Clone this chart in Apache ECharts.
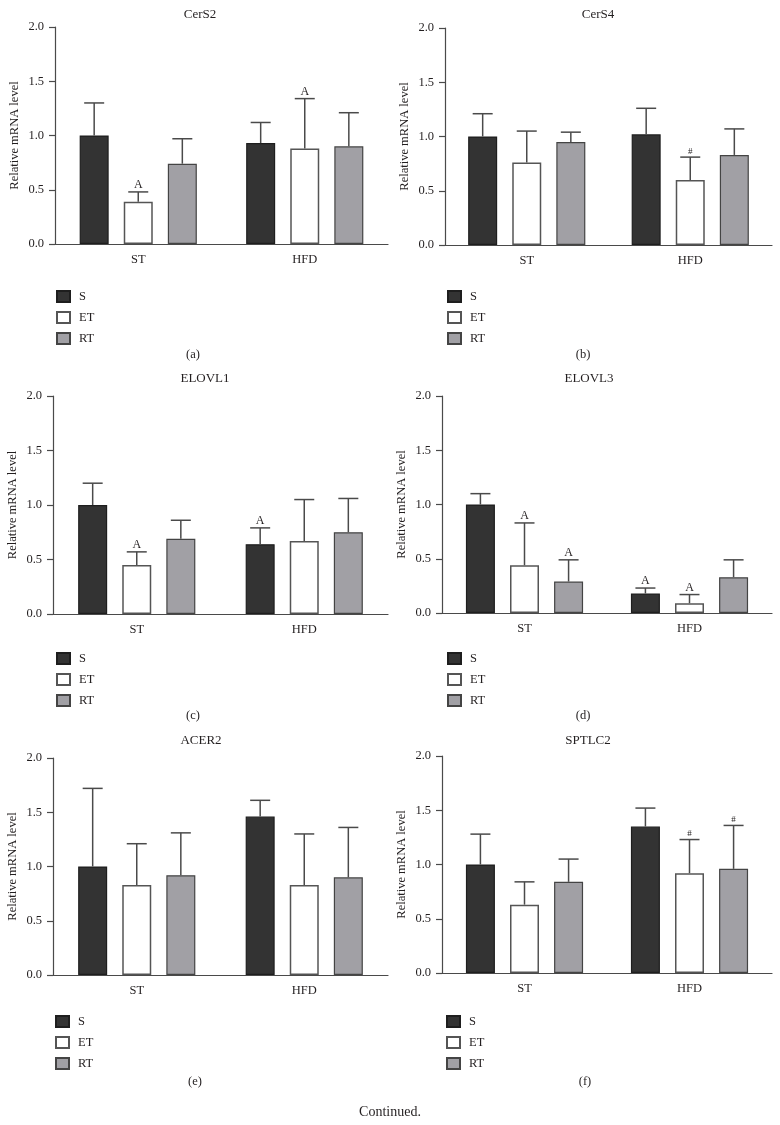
<!DOCTYPE html>
<html>
<head>
<meta charset="utf-8">
<script src="https://cdn.jsdelivr.net/npm/echarts@6/dist/echarts.min.js"></script>
<style>
html,body{margin:0;padding:0;background:#fff;}
#chart{width:780px;height:1125px;}
</style>
</head>
<body>
<div id="chart"></div>
<script>
// ---------- DATA ----------
const categories = ['ST', 'HFD'];
const groups = ['S', 'ET', 'RT'];
const yTicks = [0.0, 0.5, 1.0, 1.5, 2.0];
const panelTitles = ['CerS2', 'CerS4', 'ELOVL1', 'ELOVL3', 'ACER2', 'SPTLC2'];
const panelLetters = ['(a)', '(b)', '(c)', '(d)', '(e)', '(f)'];
const yAxisName = 'Relative mRNA level';
const footnote = 'Continued.';

// means: rows = S, ET, RT ; columns = ST, HFD
const cers2_mean   = [[1.00, 0.93], [0.39, 0.88], [0.74, 0.90]];
const cers2_sd     = [[0.30, 0.19], [0.09, 0.46], [0.23, 0.31]];
const cers2_mark   = [['', ''], ['A', 'A'], ['', '']];

const cers4_mean   = [[1.00, 1.02], [0.76, 0.60], [0.95, 0.83]];
const cers4_sd     = [[0.21, 0.24], [0.29, 0.21], [0.09, 0.24]];
const cers4_mark   = [['', ''], ['', '#'], ['', '']];

const elovl1_mean  = [[1.00, 0.64], [0.45, 0.67], [0.69, 0.75]];
const elovl1_sd    = [[0.20, 0.15], [0.12, 0.38], [0.17, 0.31]];
const elovl1_mark  = [['', 'A'], ['A', ''], ['', '']];

const elovl3_mean  = [[1.00, 0.18], [0.44, 0.09], [0.29, 0.33]];
const elovl3_sd    = [[0.10, 0.05], [0.39, 0.08], [0.20, 0.16]];
const elovl3_mark  = [['', 'A'], ['A', 'A'], ['A', '']];

const acer2_mean   = [[1.00, 1.46], [0.83, 0.83], [0.92, 0.90]];
const acer2_sd     = [[0.72, 0.15], [0.38, 0.47], [0.39, 0.46]];
const acer2_mark   = [['', ''], ['', ''], ['', '']];

const sptlc2_mean  = [[1.00, 1.35], [0.63, 0.92], [0.84, 0.96]];
const sptlc2_sd    = [[0.28, 0.17], [0.21, 0.31], [0.21, 0.40]];
const sptlc2_mark  = [['', ''], ['', '#'], ['', '#']];

const panelMeans = [cers2_mean, cers4_mean, elovl1_mean, elovl3_mean, acer2_mean, sptlc2_mean];
const panelSds   = [cers2_sd, cers4_sd, elovl1_sd, elovl3_sd, acer2_sd, sptlc2_sd];
const panelMarks = [cers2_mark, cers4_mark, elovl1_mark, elovl3_mark, acer2_mark, sptlc2_mark];

// ---------- STYLE / LAYOUT ----------
const FONT = "'Liberation Serif', 'DejaVu Serif', serif";
const TXT = '#231f20';
const AXIS = '#4a4a4a';
const BAR_W = 29;
const BAR_GAP = 0.52;
const CAP_HALF = 10;
const groupStyles = [
  {color: '#333333', borderColor: '#1e1e1e', borderWidth: 1.2},
  {color: '#ffffff', borderColor: '#555555', borderWidth: 1.5},
  {color: '#a1a0a5', borderColor: '#444444', borderWidth: 1.2}
];
const grids = [
  {left: 55,  top: 27,  width: 333, height: 217},
  {left: 445, top: 28,  width: 327, height: 217},
  {left: 53,  top: 396, width: 335, height: 218},
  {left: 442, top: 396, width: 330, height: 217},
  {left: 53,  top: 758, width: 335, height: 217},
  {left: 442, top: 756, width: 330, height: 217}
];
const titlePos  = [[200, 15], [598, 15], [205, 379], [589, 379], [201, 741], [588, 741]];
const legendPos = [[56, 290], [447, 290], [56, 652], [447, 652], [55, 1015], [446, 1015]];
const letterPos = [[193, 355], [583, 355], [193, 716], [583, 716], [195, 1082], [585, 1082]];

const option = {
  backgroundColor: '#fff',
  animation: false,
  grid: [], xAxis: [], yAxis: [], series: [], legend: [], graphic: []
};

panelTitles.forEach((t, p) => {
  const g = grids[p];
  option.grid.push({left: g.left, top: g.top, width: g.width, height: g.height, containLabel: false});
  option.xAxis.push({
    type: 'category', gridIndex: p, data: categories,
    axisLine: {show: true, lineStyle: {color: AXIS, width: 1.2}},
    axisTick: {show: false},
    axisLabel: {color: TXT, fontFamily: FONT, fontSize: 12.5, margin: 9}
  });
  option.yAxis.push({
    type: 'value', gridIndex: p, min: 0, max: 2, interval: 0.5,
    name: yAxisName, nameLocation: 'middle', nameGap: 34, nameRotate: 90,
    nameTextStyle: {color: TXT, fontFamily: FONT, fontSize: 12.5},
    axisLine: {show: true, lineStyle: {color: AXIS, width: 1.2}},
    axisTick: {show: true, length: 6, lineStyle: {color: AXIS, width: 1.2}},
    splitLine: {show: false},
    axisLabel: {color: TXT, fontFamily: FONT, fontSize: 12.5, margin: 11,
      formatter: v => yTicks.includes(v) ? v.toFixed(1) : ''}
  });
  groups.forEach((gname, k) => {
    option.series.push({
      type: 'bar', name: gname, xAxisIndex: p, yAxisIndex: p,
      data: panelMeans[p][k],
      barWidth: BAR_W, barGap: (BAR_GAP * 100) + '%',
      itemStyle: groupStyles[k],
      z: 2
    });
  });
  // error bars + significance marks
  const errData = [];
  groups.forEach((gname, k) => {
    categories.forEach((c, i) => {
      errData.push([i, panelMeans[p][k][i] + panelSds[p][k][i], k, panelMeans[p][k][i]]);
    });
  });
  const marks = panelMarks[p];
  option.series.push({
    type: 'custom', xAxisIndex: p, yAxisIndex: p, z: 5, silent: true,
    data: errData,
    renderItem: (params, api) => {
      const i = api.value(0), top = api.value(1), k = api.value(2), mean = api.value(3);
      const b = api.coord([i, mean]);
      const t = api.coord([i, top]);
      const x = b[0] + (k - 1) * BAR_W * (1 + BAR_GAP);
      const st = {stroke: '#4a4a4a', lineWidth: 1.5};
      const children = [
        {type: 'line', shape: {x1: x, y1: b[1], x2: x, y2: t[1]}, style: st},
        {type: 'line', shape: {x1: x - CAP_HALF, y1: t[1], x2: x + CAP_HALF, y2: t[1]}, style: st}
      ];
      const m = marks[k][i];
      if (m) {
        children.push({type: 'text', style: {
          text: m, x: x, y: t[1] - 1, align: 'center', verticalAlign: 'bottom',
          fontFamily: FONT, fontSize: m === '#' ? 9 : 12, fill: TXT
        }});
      }
      return {type: 'group', children: children};
    }
  });
  option.legend.push({
    left: legendPos[p][0], top: legendPos[p][1], orient: 'vertical', padding: 0,
    data: groups, icon: 'rect', itemWidth: 13, itemHeight: 11, itemGap: 8,
    selectedMode: false,
    textStyle: {color: TXT, fontFamily: FONT, fontSize: 12.5, padding: [0, 0, 0, 4]}
  });
  option.graphic.push({
    type: 'text', left: titlePos[p][0], top: titlePos[p][1],
    style: {text: t, fontFamily: FONT, fontSize: 13, fill: TXT}
  });
  option.graphic.push({
    type: 'text', left: letterPos[p][0], top: letterPos[p][1],
    style: {text: panelLetters[p], fontFamily: FONT, fontSize: 12.5, fill: TXT}
  });
});
option.graphic.push({
  type: 'text', left: 390, top: 1112,
  style: {text: footnote, fontFamily: FONT, fontSize: 14, fill: TXT}
});
// center texts: convert positions to centered placement
option.graphic.forEach(gr => {
  const cx = gr.left, cy = gr.top;
  delete gr.left; delete gr.top;
  gr.x = cx; gr.y = cy;
  gr.style.align = 'center';
  gr.style.verticalAlign = 'middle';
});

const chart = echarts.init(document.getElementById('chart'), null, {renderer: 'canvas'});
chart.setOption(option);
</script>
</body>
</html>
